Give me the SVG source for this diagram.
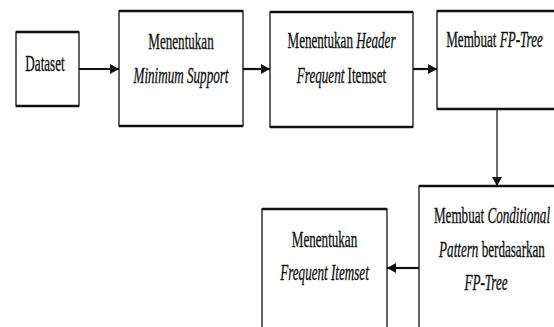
<svg xmlns="http://www.w3.org/2000/svg" width="554" height="327" viewBox="0 0 554 327">
<style>
.box{fill:#fff;stroke:#111;stroke-width:1.3}
.hedge{fill:none;stroke:#111;stroke-width:2.4}
.t{font-family:"Liberation Serif","Times New Roman",serif;font-size:23px;fill:#111;stroke:#111;stroke-width:0.35;text-anchor:middle}
.i{font-style:italic}
.conn{stroke:#111;fill:none}
.thick{stroke-width:2.2}
.thin{stroke-width:1.2}
</style>
<defs>
<marker id="ah" markerWidth="9" markerHeight="10" refX="9" refY="5" orient="auto" markerUnits="userSpaceOnUse">
<path d="M0,0 L9,5 L0,10 Z" fill="#111"/>
</marker>
</defs>
<rect width="554" height="327" fill="#fff"/>
<g id="connectors">
<line class="conn thick" x1="79" y1="69" x2="119" y2="69" marker-end="url(#ah)"/>
<line class="conn thick" x1="243" y1="69" x2="270" y2="69" marker-end="url(#ah)"/>
<line class="conn thick" x1="413" y1="69" x2="437" y2="69" marker-end="url(#ah)"/>
<line class="conn thin" x1="497" y1="109" x2="497" y2="186" marker-end="url(#ah)"/>
<line class="conn thick" x1="419" y1="268" x2="387" y2="268" marker-end="url(#ah)"/>
</g>
<g id="dataset">
<rect class="box" x="16" y="32" width="63" height="74"/>
<path class="hedge" d="M16,32 H79 M16,106 H79"/>
<text class="t" transform="translate(45 71) scale(0.57 1)">Dataset</text>
</g>
<g id="minsupport">
<rect class="box" x="119" y="11" width="124" height="115"/>
<path class="hedge" d="M119,11 H243 M119,126 H243"/>
<text class="t" transform="translate(181 49) scale(0.57 1)">Menentukan</text>
<text class="t i" transform="translate(181 83) scale(0.57 1)">Minimum Support</text>
</g>
<g id="header">
<rect class="box" x="270" y="12" width="143" height="115"/>
<path class="hedge" d="M270,12 H413 M270,127 H413"/>
<text class="t" transform="translate(341.5 48) scale(0.57 1)">Menentukan <tspan class="i">Header</tspan></text>
<text class="t" transform="translate(341.5 83) scale(0.57 1)"><tspan class="i">Frequent</tspan> Itemset</text>
</g>
<g id="fptree">
<rect class="box" x="437" y="11" width="120" height="98"/>
<path class="hedge" d="M437,11 H557 M437,109 H557"/>
<text class="t" transform="translate(494.5 47) scale(0.57 1)">Membuat <tspan class="i">FP-Tree</tspan></text>
</g>
<g id="conditional">
<rect class="box" x="419" y="186" width="142" height="150"/>
<path class="hedge" d="M419,186 H561"/>
<text class="t" transform="translate(492 223) scale(0.57 1)">Membuat <tspan class="i">Conditional</tspan></text>
<text class="t" transform="translate(492 257) scale(0.57 1)"><tspan class="i">Pattern</tspan> berdasarkan</text>
<text class="t i" transform="translate(486 290) scale(0.57 1)">FP-Tree</text>
</g>
<g id="frequent">
<rect class="box" x="262" y="209" width="125" height="130"/>
<path class="hedge" d="M262,209 H387"/>
<text class="t" transform="translate(324.5 247) scale(0.57 1)">Menentukan</text>
<text class="t i" transform="translate(324.5 280) scale(0.57 1)">Frequent Itemset</text>
</g>
</svg>
